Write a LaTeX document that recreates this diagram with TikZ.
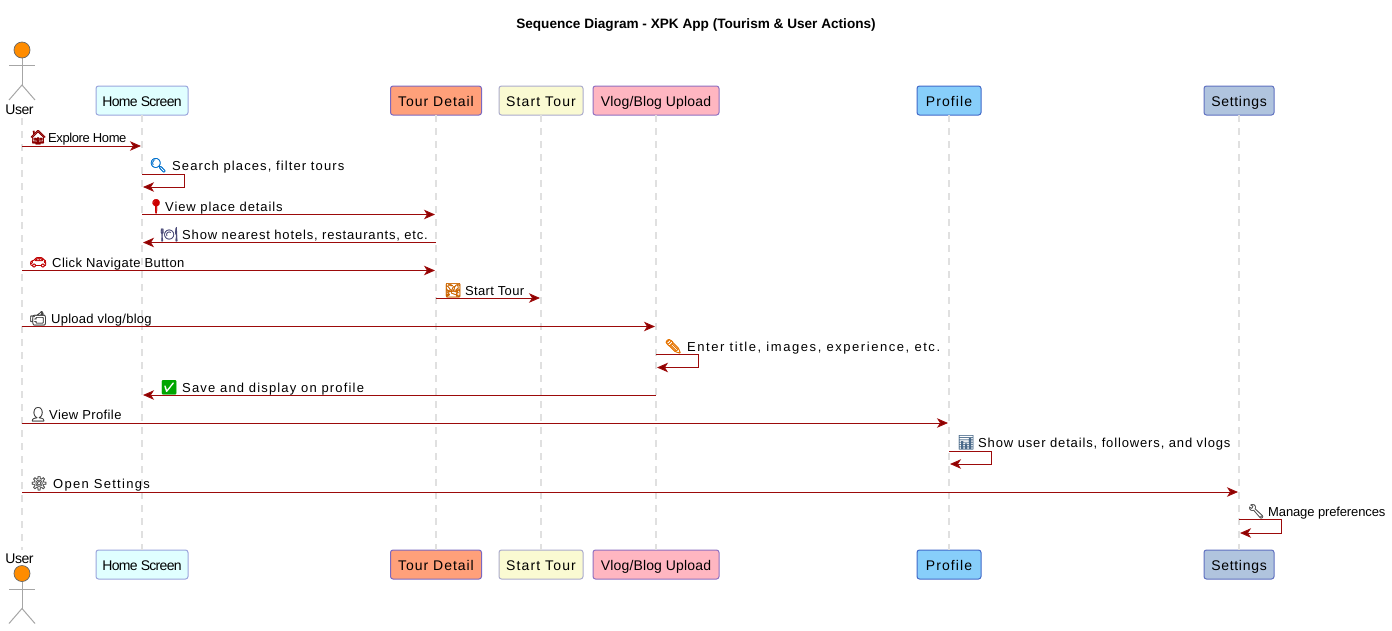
\documentclass[tikz,border=0pt]{standalone}
\usepackage{fontspec}
\setmainfont{Liberation Sans}
\newfontfamily\emojifont[FakeBold=1.4]{Noto Emoji}
\usetikzlibrary{arrows.meta,calc}

\definecolor{msgred}{HTML}{9C0A0A}
\definecolor{headred}{HTML}{8B0000}
\definecolor{homefill}{HTML}{E0FFFF}
\definecolor{tourfill}{HTML}{FFA07A}
\definecolor{startfill}{HTML}{FAFAD2}
\definecolor{vlogfill}{HTML}{FFB6C1}
\definecolor{profilefill}{HTML}{87CEFA}
\definecolor{settingsfill}{HTML}{B0C4DE}
\definecolor{homeline}{HTML}{9AA5DC}
\definecolor{tourline}{HTML}{7B68C0}
\definecolor{startline}{HTML}{ABABCC}
\definecolor{vlogline}{HTML}{8F6FC0}
\definecolor{profileline}{HTML}{4169C8}
\definecolor{settingsline}{HTML}{5F70C0}
\definecolor{charticon}{HTML}{4A6A8A}
\tikzset{
  party/.style={draw=#1line, fill=#1fill, line width=1pt, rounded corners=2.5pt, minimum height=29pt, inner sep=0pt, text height=13pt, text depth=1.5pt, text=black, font=\fontsize{14}{16}\selectfont},
  lifeline/.style={draw=black!12, line width=1.4pt, dash pattern=on 7pt off 6pt},
  msg/.style={draw=msgred, line width=1pt, shorten >=1pt, -{Stealth[length=11pt,width=9.5pt,inset=3pt,fill=headred]}},
  msgtext/.style={anchor=base west, inner sep=0pt, font=\fontsize{13}{15}\selectfont},
  msgicon/.style={anchor=base west, inner sep=0pt, font=\fontsize{14}{15}\emojifont},
  stick/.style={draw=black!35, line width=1pt},
  usertext/.style={inner sep=0pt, font=\fontsize{14}{16}\selectfont}
}
% letter spaced text
\newcommand{\spaced}[2]{{\addfontfeature{LetterSpace=#1}#2}}
% straight message, self message
\newcommand{\msgline}[3]{\draw[msg] (#1 |- 0,#3) -- (#2 |- 0,#3);}
\newcommand{\msgself}[3]{\draw[msg] (#1 |- 0,#2) -- ++(42.5,0) |- (#1 |- 0,#3);}
% stick figure, #1 is the x, #2 the y of the head
\newcommand{\stickman}[2]{
  \draw[stick] (#1,#2-8) -- (#1,#2-35);
  \draw[stick] (#1-13,#2-15.5) -- (#1+13,#2-15.5);
  \draw[stick] (#1-13,#2-50) -- (#1,#2-35) -- (#1+13,#2-50);
  \draw[fill={rgb,255:red,255;green,140;blue,0}, draw=black!60, line width=.7pt] (#1,#2) circle (8);
}

\begin{document}
\begin{tikzpicture}[x=1pt,y=1pt]
  \useasboundingbox (0,0) rectangle (1392,-630);
  \node[inner sep=0pt, font=\fontsize{13.6}{16}\bfseries\selectfont] (title) at (696,-25) {Sequence Diagram - XPK App (Tourism \& User Actions)};

  % participants, top row
  \node[party=home, minimum width=92pt] (homeTop) at (142,-100.5) {\spaced{-5}{Home Screen}};
  \node[party=tour, minimum width=91pt] (tourTop) at (436,-100.5) {\spaced{7}{Tour Detail}};
  \node[party=start, minimum width=84pt] (startTop) at (541,-100.5) {\spaced{8}{Start Tour}};
  \node[party=vlog, minimum width=126pt] (vlogTop) at (656,-100.5) {\spaced{1}{Vlog/Blog Upload}};
  \node[party=profile, minimum width=64pt] (profileTop) at (949,-100.5) {\spaced{8}{Profile}};
  \node[party=settings, minimum width=70pt] (settingsTop) at (1239,-100.5) {\spaced{5}{Settings}};

  % participants, bottom row
  \node[party=home, minimum width=92pt] (homeBot) at (142,-564.5) {\spaced{-5}{Home Screen}};
  \node[party=tour, minimum width=91pt] (tourBot) at (436,-564.5) {\spaced{7}{Tour Detail}};
  \node[party=start, minimum width=84pt] (startBot) at (541,-564.5) {\spaced{8}{Start Tour}};
  \node[party=vlog, minimum width=126pt] (vlogBot) at (656,-564.5) {\spaced{1}{Vlog/Blog Upload}};
  \node[party=profile, minimum width=64pt] (profileBot) at (949,-564.5) {\spaced{8}{Profile}};
  \node[party=settings, minimum width=70pt] (settingsBot) at (1239,-564.5) {\spaced{5}{Settings}};

  % the user
  \stickman{22}{-50}
  \stickman{22}{-573.5}
  \node[usertext] (userTop) at (19.5,-110) {\spaced{-3}{User}};
  \node[usertext] (userBot) at (19.5,-559) {\spaced{-3}{User}};
  \coordinate (userA) at (22,-118);
  \coordinate (userB) at (22,-550);

  % lifelines
  \draw[lifeline] (userA) -- (userB);
  \foreach \p in {home,tour,start,vlog,profile,settings}
    \draw[lifeline] (\p Top.south |- 0,-115) -- (\p Bot.north |- 0,-550);

  % messages
  \msgline{userA}{homeTop}{-146}
  \node[msgicon, text=red!55!black] (iconA) at (29,-142) {🏠};
  \node[msgtext] (textA) at (48,-142) {\spaced{-3.2}{Explore Home}};

  \msgself{homeTop}{-174}{-187}
  \node[msgicon, text=blue!45!cyan!80!black] (iconB) at (149,-170) {🔍};
  \node[msgtext] (textB) at (172,-170) {\spaced{8.5}{Search places, filter tours}};

  \msgline{homeTop}{tourTop}{-214.5}
  \node[msgicon, text=red!80!black] (iconC) at (147,-211) {📍};
  \node[msgtext] (textC) at (165,-211) {\spaced{7}{View place details}};

  \msgline{tourTop}{homeTop}{-242.5}
  \node[msgicon, text=blue!25!black!70] (iconD) at (160,-239) {🍽};
  \node[msgtext] (textD) at (182,-239) {\spaced{6.4}{Show nearest hotels, restaurants, etc.}};

  \msgline{userA}{tourTop}{-270.5}
  \node[msgicon, text=red!75!black] (iconE) at (29,-267) {🚗};
  \node[msgtext] (textE) at (52,-267) {\spaced{3.4}{Click Navigate Button}};

  \msgline{tourTop}{startTop}{-298}
  \node[msgicon, text=orange!80!black] (iconF) at (444,-295) {🏞};
  \node[msgtext] (textF) at (465,-295) {\spaced{2.5}{Start Tour}};

  \msgline{userA}{vlogTop}{-326.5}
  \node[msgicon, text=black!75] (iconG) at (29,-323) {📹};
  \node[msgtext] (textG) at (51,-323) {\spaced{2}{Upload vlog/blog}};

  \msgself{vlogTop}{-354}{-367.5}
  \node[msgicon, text=orange!90!black] (iconH) at (664,-351) {✏};
  \node[msgtext] (textH) at (687,-351) {\spaced{12}{Enter title, images, experience, etc.}};

  \msgline{vlogTop}{homeTop}{-395}
  \node[msgicon, text=green!65!black] (iconI) at (160,-392) {✅};
  \node[msgtext] (textI) at (182,-392) {\spaced{9}{Save and display on profile}};

  \msgline{userA}{profileTop}{-423}
  \node[msgicon, text=black!75] (iconJ) at (29,-419) {👤};
  \node[msgtext] (textJ) at (49,-419) {\spaced{3}{View Profile}};

  \msgself{profileTop}{-451}{-464}
  \node[msgicon, text=charticon] (iconK) at (957,-447) {📊};
  \node[msgtext] (textK) at (978,-447) {\spaced{6.6}{Show user details, followers, and vlogs}};

  \msgline{userA}{settingsTop}{-492}
  \node[msgicon, text=black!65] (iconL) at (30,-488) {⚙};
  \node[msgtext] (textL) at (53,-488) {\spaced{10}{Open Settings}};

  \msgself{settingsTop}{-519.5}{-533}
  \node[msgicon, text=black!65] (iconM) at (1247,-516) {🔧};
  \node[msgtext] (textM) at (1268,-516) {\spaced{-1}{Manage preferences}};
\end{tikzpicture}
\end{document}
